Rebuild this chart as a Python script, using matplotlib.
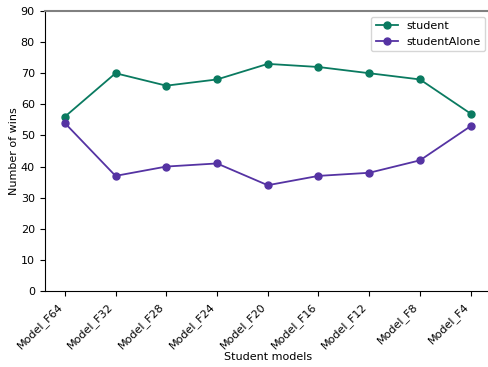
import matplotlib
matplotlib.use("Agg")
import matplotlib.pyplot as plt

models = ["Model_F64", "Model_F32", "Model_F28", "Model_F24", "Model_F20",
          "Model_F16", "Model_F12", "Model_F8", "Model_F4"]
student = [56, 70, 66, 68, 73, 72, 70, 68, 57]
student_alone = [54, 37, 40, 41, 34, 37, 38, 42, 53]

plt.rcParams['font.size'] = 8

fig = plt.figure(figsize=(4.89, 3.67), dpi=100)
ax = fig.add_axes([44.5 / 489, 76 / 367, 446.5 / 489, 280 / 367])

x = range(len(models))
ax.plot(x, student, marker='o', color='#0a7a60', markersize=5, linewidth=1.3, label='student')
ax.plot(x, student_alone, marker='o', color='#5533a3', markersize=5, linewidth=1.3, label='studentAlone')

ax.set_ylim(0, 90)
ax.set_xticks(list(x))
ax.set_xticklabels(models, rotation=45, ha='right')
ax.set_xlabel("Student models", labelpad=1)
ax.set_ylabel("Number of wins", labelpad=1.5)
ax.spines['right'].set_visible(False)
ax.spines['top'].set_color('#808080')
ax.spines['top'].set_linewidth(1.5)
ax.legend(loc='upper right')

fig.savefig("out.png", dpi=100)
